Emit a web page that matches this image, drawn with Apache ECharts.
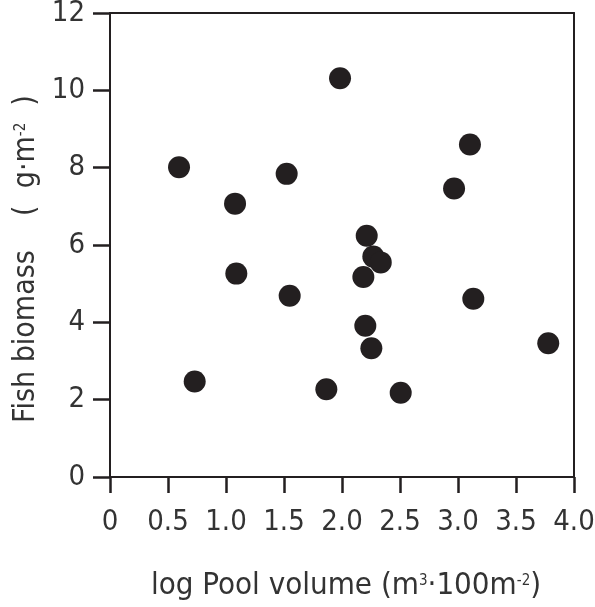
<!DOCTYPE html>
<html>
<head>
<meta charset="utf-8">
<script src="https://cdn.jsdelivr.net/npm/echarts@6/dist/echarts.min.js"></script>
<style>
html,body{margin:0;padding:0;background:#fff;}
#chart{width:595px;height:607px;}
</style>
</head>
<body>
<div id="chart"></div>
<script>
// Data
var poolVolume = [0.595, 0.730, 1.078, 1.089, 1.523, 1.549, 1.983, 1.865, 2.213, 2.270, 2.334, 2.184, 2.201, 2.253, 2.506, 2.966, 3.103, 3.132, 3.778];
var fishBiomass = [8.01, 2.47, 7.07, 5.26, 7.84, 4.69, 10.31, 2.27, 6.24, 5.70, 5.55, 5.17, 3.91, 3.33, 2.18, 7.46, 8.60, 4.61, 3.46];
var xTickLabels = ['0', '0.5', '1.0', '1.5', '2.0', '2.5', '3.0', '3.5', '4.0'];
var yTickLabels = ['0', '2', '4', '6', '8', '10', '12'];

var FONT = '"Liberation Sans Narrow", "DejaVu Sans Condensed", "Roboto Condensed", "Liberation Sans", sans-serif';
var TXT = '#333';
var LINE = '#231f20';

var points = poolVolume.map(function (x, i) { return [x, fishBiomass[i]]; });

var chart = echarts.init(document.getElementById('chart'), null, {renderer: 'canvas'});
chart.setOption({
  animation: false,
  backgroundColor: '#fff',
  grid: {left: 110, right: 21, top: 13, bottom: 130, containLabel: false, outerBoundsMode: 'none'},
  xAxis: [{
    type: 'value', min: 0, max: 4, interval: 0.5,
    axisLine: {show: true, onZero: false, lineStyle: {color: LINE, width: 2}},
    axisTick: {show: true, inside: false, length: 16, lineStyle: {color: LINE, width: 2.5}},
    splitLine: {show: false},
    axisLabel: {
      margin: 31, color: TXT, fontFamily: FONT, fontSize: 29,
      formatter: function (v) { return xTickLabels[Math.round(v / 0.5)]; }
    },
    name: '{n|log Pool volume (m}{s|3}{n|·100m}{s|-2}{n|)}',
    nameLocation: 'middle', nameGap: 93,
    nameTextStyle: {
      padding: [0, 0, 0, 8],
      rich: {
        n: {fontFamily: FONT, fontSize: 31, color: TXT, lineHeight: 32},
        s: {fontFamily: FONT, fontSize: 15, color: TXT, lineHeight: 32, verticalAlign: 'top', padding: [4, 0, 0, 0]}
      }
    }
  }, {
    type: 'value', min: 0, max: 4, position: 'top',
    axisLine: {show: true, onZero: false, lineStyle: {color: LINE, width: 2}},
    axisTick: {show: false}, axisLabel: {show: false}, splitLine: {show: false}
  }],
  yAxis: [{
    type: 'value', min: 0, max: 12, interval: 2,
    axisLine: {show: true, onZero: false, lineStyle: {color: LINE, width: 2}},
    axisTick: {show: true, inside: false, length: 17, lineStyle: {color: LINE, width: 2.5}},
    splitLine: {show: false},
    axisLabel: {
      margin: 25, color: TXT, fontFamily: FONT, fontSize: 29,
      formatter: function (v) { return yTickLabels[Math.round(v / 2)]; }
    },
    name: '{n|Fish biomass    (  g·m}{s|-2}{n|  )}',
    nameLocation: 'middle', nameGap: 64, nameRotate: 90,
    nameTextStyle: {
      padding: [0, 28, 0, 0],
      rich: {
        n: {fontFamily: FONT, fontSize: 30, color: TXT, lineHeight: 32},
        s: {fontFamily: FONT, fontSize: 15, color: TXT, lineHeight: 32, verticalAlign: 'top', padding: [4, 0, 0, 0]}
      }
    }
  }, {
    type: 'value', min: 0, max: 12, position: 'right',
    axisLine: {show: true, onZero: false, lineStyle: {color: LINE, width: 2}},
    axisTick: {show: false}, axisLabel: {show: false}, splitLine: {show: false}
  }],
  series: [{
    type: 'scatter',
    xAxisIndex: 0, yAxisIndex: 0,
    data: points,
    symbol: 'circle',
    symbolSize: 22,
    itemStyle: {color: LINE, opacity: 1}
  }]
});
</script>
</body>
</html>
